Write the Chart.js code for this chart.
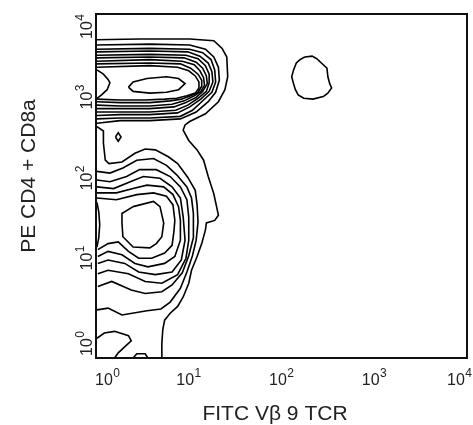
<!DOCTYPE html>
<html>
<head>
<meta charset="utf-8">
<script src="https://cdn.jsdelivr.net/npm/chart.js@4"></script>
<style>
  body { margin: 0; background: #fff; }
  canvas { display: block; }
</style>
</head>
<body>
<canvas id="contour" width="473" height="425"></canvas>
<script>
// values are log10 units (decades): [FITC, PE]
const xTickExps = [0, 1, 2, 3, 4];
const yTickExps = [0, 1, 2, 3, 4];
const xTitle = 'FITC Vβ 9 TCR';
const yTitle = 'PE CD4 + CD8a';

// outermost level, wraps both populations
const outerLevel = [[0.0,3.70],[0.47,3.71],[1.01,3.71],[1.27,3.69],[1.36,3.60],[1.41,3.50],[1.42,3.27],[1.39,3.12],[1.32,2.98],[1.18,2.84],[1.01,2.75],[0.96,2.71],[0.94,2.65],[1.0,2.53],[1.09,2.42],[1.16,2.30],[1.21,2.11],[1.27,1.91],[1.30,1.76],[1.32,1.66],[1.28,1.60],[1.19,1.57],[1.18,1.49],[1.14,1.33],[1.09,1.18],[1.03,1.02],[1.0,0.87],[0.94,0.71],[0.88,0.60],[0.80,0.52],[0.74,0.44],[0.72,0.33],[0.71,0.17],[0.71,0]];

// upper (CD4/CD8 high) population, rings open to the left edge
const upper1 = [[0.01,3.64],[0.58,3.65],[1.01,3.64],[1.18,3.59],[1.27,3.50],[1.32,3.38],[1.33,3.23],[1.29,3.09],[1.21,2.98],[1.08,2.86],[0.91,2.78],[0.58,2.76],[0.26,2.76],[0.01,2.73]];
const upper2 = [[0.01,3.59],[0.58,3.60],[1.01,3.59],[1.15,3.55],[1.24,3.47],[1.28,3.35],[1.29,3.21],[1.25,3.09],[1.16,3.00],[1.04,2.88],[0.91,2.81],[0.58,2.79],[0.26,2.79],[0.01,2.78]];
const upper3 = [[0.01,3.56],[0.58,3.57],[0.99,3.56],[1.12,3.51],[1.21,3.43],[1.25,3.33],[1.26,3.21],[1.22,3.10],[1.13,3.01],[1.01,2.92],[0.88,2.85],[0.58,2.83],[0.26,2.83],[0.01,2.82]];
const upper4 = [[0.01,3.52],[0.58,3.53],[0.97,3.52],[1.10,3.48],[1.18,3.40],[1.22,3.30],[1.22,3.20],[1.19,3.10],[1.10,3.02],[0.99,2.94],[0.86,2.88],[0.58,2.86],[0.26,2.86],[0.01,2.86]];
const upper5 = [[0.01,3.49],[0.58,3.50],[0.95,3.49],[1.08,3.44],[1.15,3.37],[1.19,3.28],[1.20,3.19],[1.15,3.10],[1.08,3.03],[0.97,2.97],[0.84,2.92],[0.58,2.90],[0.26,2.90],[0.01,2.90]];
const upper6 = [[0.01,3.45],[0.58,3.47],[0.93,3.45],[1.06,3.41],[1.12,3.34],[1.16,3.26],[1.17,3.17],[1.13,3.10],[1.06,3.05],[0.95,2.99],[0.82,2.95],[0.58,2.93],[0.26,2.93],[0.01,2.94]];
const upper7 = [[0.01,3.42],[0.58,3.43],[0.91,3.42],[1.02,3.37],[1.10,3.30],[1.14,3.23],[1.14,3.16],[1.10,3.09],[1.02,3.05],[0.92,3.01],[0.80,2.99],[0.58,2.97],[0.26,2.97],[0.01,2.98]];
const upper8 = [[0.01,3.38],[0.58,3.40],[0.88,3.38],[1.00,3.34],[1.07,3.28],[1.11,3.21],[1.11,3.14],[1.07,3.08],[0.98,3.05],[0.87,3.02],[0.74,3.01],[0.53,3.00],[0.26,3.00],[0.01,3.01]];
const upperSaddle = [[0.01,3.35],[0.08,3.30],[0.13,3.24],[0.15,3.20],[0.12,3.12],[0.06,3.06],[0.01,3.02]];
const upperPeak = [[0.35,3.15],[0.40,3.21],[0.55,3.25],[0.76,3.27],[0.89,3.25],[0.96,3.19],[0.89,3.12],[0.76,3.09],[0.58,3.08],[0.40,3.10],[0.35,3.15]];

// small Vb9+ island, upper right
const island = [[2.25,3.50],[2.33,3.51],[2.38,3.48],[2.43,3.43],[2.49,3.37],[2.50,3.27],[2.52,3.19],[2.54,3.14],[2.50,3.08],[2.45,3.04],[2.34,3.01],[2.24,3.02],[2.18,3.06],[2.15,3.12],[2.13,3.19],[2.11,3.27],[2.13,3.35],[2.16,3.43],[2.20,3.47],[2.25,3.50]];
const diamond = [[0.21,2.57],[0.24,2.62],[0.27,2.57],[0.24,2.52],[0.21,2.57]];

// lower (double negative) population
const lower0 = [[0.01,2.69],[0.08,2.64],[0.08,2.50],[0.10,2.30],[0.14,2.26],[0.28,2.28],[0.42,2.38],[0.53,2.43],[0.64,2.42],[0.78,2.34],[0.88,2.26],[0.99,2.10],[1.07,1.95],[1.09,1.78],[1.10,1.58],[1.08,1.37],[1.04,1.19],[0.98,1.00],[0.91,0.81],[0.80,0.65],[0.70,0.57],[0.55,0.55],[0.28,0.50],[0.13,0.58],[0.01,0.56]];
const lower1 = [[0.01,2.17],[0.15,2.15],[0.29,2.21],[0.44,2.30],[0.62,2.32],[0.76,2.24],[0.87,2.13],[0.98,1.99],[1.03,1.86],[1.05,1.68],[1.05,1.40],[1.00,1.19],[0.93,0.99],[0.82,0.85],[0.71,0.77],[0.53,0.75],[0.38,0.79],[0.17,0.89],[0.02,0.83]];
const lower2 = [[0.01,2.07],[0.15,2.05],[0.33,2.11],[0.47,2.19],[0.65,2.19],[0.80,2.11],[0.91,1.99],[0.98,1.84],[1.00,1.64],[1.00,1.37],[0.97,1.16],[0.88,0.97],[0.71,0.87],[0.53,0.89],[0.35,0.98],[0.13,1.02],[0.02,0.98]];
const lower3 = [[0.01,1.99],[0.19,1.97],[0.37,2.05],[0.51,2.11],[0.69,2.09],[0.82,1.99],[0.91,1.86],[0.94,1.64],[0.96,1.37],[0.92,1.14],[0.82,1.00],[0.64,0.97],[0.46,1.00],[0.31,1.10],[0.13,1.14],[0.02,1.10]];
const lower4 = [[0.01,1.92],[0.22,1.92],[0.40,1.97],[0.55,2.01],[0.73,1.99],[0.83,1.90],[0.89,1.76],[0.91,1.60],[0.91,1.37],[0.85,1.18],[0.74,1.10],[0.56,1.06],[0.42,1.10],[0.28,1.20],[0.13,1.24],[0.02,1.18]];
const lower5 = [[0.01,1.86],[0.22,1.84],[0.44,1.90],[0.62,1.92],[0.76,1.88],[0.83,1.78],[0.85,1.60],[0.84,1.47],[0.82,1.31],[0.74,1.22],[0.60,1.16],[0.46,1.16],[0.35,1.24],[0.24,1.35],[0.13,1.33],[0.02,1.26]];
const lowerEdge = [[0.01,1.81],[0.03,1.70],[0.04,1.55],[0.03,1.40],[0.01,1.29]];
const lowerPeak = [[0.40,1.76],[0.62,1.82],[0.69,1.76],[0.73,1.57],[0.71,1.41],[0.65,1.33],[0.58,1.28],[0.40,1.29],[0.29,1.41],[0.28,1.57],[0.28,1.68],[0.40,1.76]];

// debris near the origin
const debrisA = [[0.01,0.23],[0.09,0.29],[0.20,0.31],[0.35,0.26],[0.38,0.20],[0.30,0.12],[0.24,0.06],[0.20,0]];
const debrisB = [[0.40,0],[0.44,0.05],[0.53,0.05],[0.56,0]];

const contours = [outerLevel, upper1, upper2, upper3, upper4, upper5, upper6, upper7, upper8,
    upperSaddle, upperPeak, island, diamond, lower0, lower1, lower2, lower3, lower4, lower5,
    lowerEdge, lowerPeak, debrisA, debrisB];

const FONT = "'Liberation Sans', Arial, Helvetica, sans-serif";

function powLabel(ctx, exp, x, y) {
    ctx.font = '16px ' + FONT;
    ctx.fillText('10', x, y);
    const w = ctx.measureText('10').width;
    ctx.font = '12px ' + FONT;
    ctx.fillText(String(exp), x + w + 0.5, y - 8);
}

function powWidth(ctx, exp) {
    ctx.font = '16px ' + FONT;
    const w = ctx.measureText('10').width;
    ctx.font = '12px ' + FONT;
    return w + 0.5 + ctx.measureText(String(exp)).width;
}

// frame, tick labels and titles
const axesPlugin = {
    id: 'axesPlugin',
    afterDraw(chart) {
        const ctx = chart.ctx;
        const a = chart.chartArea;
        const xs = chart.scales.x, ys = chart.scales.y;
        ctx.save();
        ctx.strokeStyle = '#111';
        ctx.lineWidth = 2;
        ctx.strokeRect(a.left, a.top, a.right - a.left, a.bottom - a.top);

        ctx.fillStyle = '#222';
        ctx.textAlign = 'left';
        ctx.textBaseline = 'alphabetic';
        xTickExps.forEach(function (e) {
            const px = xs.getPixelForValue(e);
            const w = powWidth(ctx, e);
            let left = px - w / 2;
            left = Math.max(a.left - 1, Math.min(left, chart.width - 1 - w));
            powLabel(ctx, e, left, 385);
        });

        // the original labels sit a little above their decades
        const yNudge = [0, 14, 8, 3, 0];
        yTickExps.forEach(function (e, i) {
            const py = ys.getPixelForValue(e) - yNudge[i];
            const w = powWidth(ctx, e);
            let left = -w / 2;
            left = Math.max(py - a.bottom + 2, Math.min(left, py - a.top - w));
            ctx.save();
            ctx.translate(92, py);
            ctx.rotate(-Math.PI / 2);
            powLabel(ctx, e, left, 0);
            ctx.restore();
        });

        ctx.font = '21px ' + FONT;
        ctx.textAlign = 'center';
        ctx.fillText(xTitle, 275, 420);
        ctx.save();
        ctx.translate(35, 176);
        ctx.rotate(-Math.PI / 2);
        ctx.fillText(yTitle, 0, 0);
        ctx.restore();
        ctx.restore();
    }
};

new Chart(document.getElementById('contour').getContext('2d'), {
    type: 'scatter',
    data: {
        datasets: contours.map(function (c) {
            return {
                data: c.map(function (p) { return { x: p[0], y: p[1] }; }),
                showLine: true,
                borderColor: '#000',
                borderWidth: 1.6,
                pointRadius: 0,
                fill: false,
                tension: 0
            };
        })
    },
    options: {
        responsive: false,
        animation: false,
        layout: { padding: { left: 96, right: 6, top: 14, bottom: 67 } },
        plugins: { legend: { display: false }, tooltip: { enabled: false } },
        scales: {
            x: { type: 'linear', min: 0, max: 4, display: false },
            y: { type: 'linear', min: 0, max: 4, display: false }
        }
    },
    plugins: [axesPlugin]
});
</script>
</body>
</html>
